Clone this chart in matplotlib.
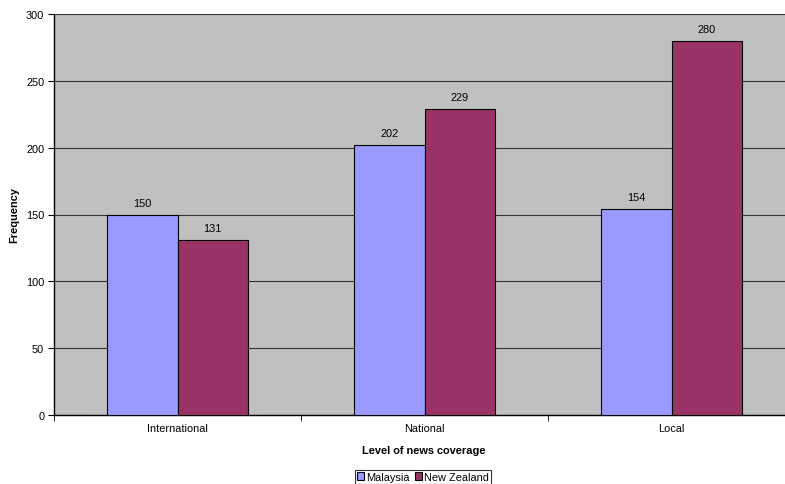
import matplotlib
matplotlib.use("Agg")
import matplotlib.pyplot as plt
import numpy as np

plt.rcParams['font.family'] = ['Liberation Sans', 'DejaVu Sans']

categories = ["International", "National", "Local"]
malaysia = [150, 202, 154]
new_zealand = [131, 229, 280]
series_names = ["Malaysia", "New Zealand"]
y_ticks = [0, 50, 100, 150, 200, 250, 300]

FS = 7.9

fig = plt.figure(figsize=(7.85, 4.85), dpi=100)
ax = fig.add_axes([54/785, 1 - 416/485, 741/785, (416 - 15)/485])
ax.set_facecolor("#C0C0C0")

x = np.arange(len(categories))
w = 0.285
b1 = ax.bar(x - w/2, malaysia, w, color="#9999FF", edgecolor="black", linewidth=0.8,
            label=series_names[0], zorder=3)
b2 = ax.bar(x + w/2, new_zealand, w, color="#993366", edgecolor="black", linewidth=0.8,
            label=series_names[1], zorder=3)

for bars, vals in ((b1, malaysia), (b2, new_zealand)):
    for rect, v in zip(bars, vals):
        ax.text(rect.get_x() + rect.get_width()/2, v + 5, str(v),
                ha="center", va="bottom", fontsize=FS)

ax.set_xlim(-0.5, len(categories) - 0.5)
ax.set_ylim(0, 300)
ax.set_yticks(y_ticks)
ax.yaxis.grid(True, color="#333333", linewidth=0.8, zorder=1)
ax.set_axisbelow(True)

# category labels centred, tick marks on the category boundaries
ax.set_xticks(x)
ax.set_xticklabels(categories, fontsize=FS)
ax.tick_params(axis="x", length=0, pad=6)
ax.set_xticks(np.arange(len(categories) + 1) - 0.5, minor=True)
ax.tick_params(axis="x", which="minor", length=4, color="black", direction="out")
ax.tick_params(axis="y", length=4, labelsize=FS, color="black", direction="out", pad=3)

for s in ("top", "right"):
    ax.spines[s].set_visible(False)
ax.spines["left"].set_color("black")
ax.spines["bottom"].set_color("black")
ax.spines["left"].set_linewidth(1.0)
ax.spines["bottom"].set_linewidth(1.0)

ax.set_ylabel("Frequency", fontsize=FS, fontweight="bold")
ax.yaxis.set_label_coords((19 - 54)/741, 0.5)
ax.set_xlabel("Level of news coverage", fontsize=FS, fontweight="bold")
ax.xaxis.set_label_coords((424 - 54)/741, -(446 - 416)/401)

leg = fig.legend(handles=[b1, b2], labels=series_names, loc="center",
                 bbox_to_anchor=(423/785, 1 - 478/485), ncol=2, fontsize=FS,
                 frameon=True, fancybox=False, edgecolor="black",
                 handlelength=0.7, handleheight=0.7, handletextpad=0.2,
                 columnspacing=0.4, borderpad=0.2, borderaxespad=0)
leg.get_frame().set_linewidth(0.8)

fig.savefig("out.png", dpi=100)
